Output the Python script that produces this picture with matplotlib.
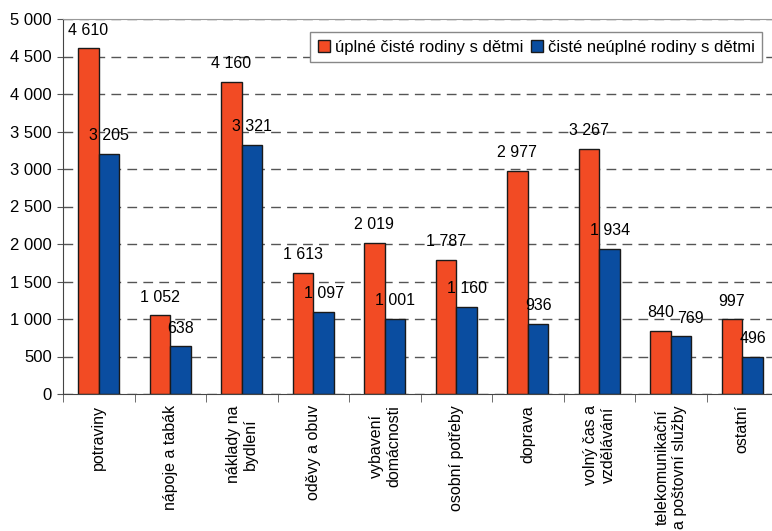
import numpy as np
import matplotlib
matplotlib.use("Agg")
import matplotlib.pyplot as plt
from matplotlib.ticker import FuncFormatter, FixedLocator

categories = ["potraviny", "nápoje a tabák", "náklady na\nbydlení", "oděvy a obuv",
              "vybavení\ndomácnosti", "osobní potřeby", "doprava",
              "volný čas a\nvzdělávání", "telekomunikační\na poštovní služby", "ostatní"]
uplne = [4610, 1052, 4160, 1613, 2019, 1787, 2977, 3267, 840, 997]
neuplne = [3205, 638, 3321, 1097, 1001, 1160, 936, 1934, 769, 496]
series_names = ["úplné čisté rodiny s dětmi", "čisté neúplné rodiny s dětmi"]

RED = "#F24B24"
BLUE = "#0A4DA0"

plt.rcParams["font.family"] = ["Liberation Sans", "DejaVu Sans"]


def fmt(v, pos=None):
    return f"{int(v):,}".replace(",", " ")


fig = plt.figure(figsize=(7.72, 5.31), dpi=100)
ax = fig.add_axes([63 / 772, 1 - 394 / 531, 715 / 772, 375 / 531])

x = np.arange(len(categories))
w = 0.29
b1 = ax.bar(x - w / 2, uplne, w, color=RED, edgecolor="#1a1a1a", linewidth=1, label=series_names[0])
b2 = ax.bar(x + w / 2, neuplne, w, color=BLUE, edgecolor="#1a1a1a", linewidth=1, label=series_names[1])

for k, (bars, vals) in enumerate(((b1, uplne), (b2, neuplne))):
    for i, (r, v) in enumerate(zip(bars, vals)):
        dx = 7 if (k == 1 and i == 8) else 0   # posun popisku u telekomunikací, jako v předloze
        ax.annotate(fmt(v), (r.get_x() + r.get_width() / 2, v), xytext=(dx, 13),
                    textcoords="offset points", ha="center", va="center", fontsize=11.5)

ax.set_xlim(-0.5, len(categories) - 0.5)
ax.set_ylim(0, 5000)
ax.set_yticks(np.arange(0, 5001, 500))
ax.yaxis.set_major_formatter(FuncFormatter(fmt))
ax.set_axisbelow(True)
ax.yaxis.grid(True, color="#555555", linestyle=(0, (7, 4.5)), linewidth=1)

ax.set_xticks(x)
ax.set_xticklabels(categories, rotation=90, ha="center", va="top", multialignment="center", fontsize=11.5)
ax.xaxis.set_minor_locator(FixedLocator(np.arange(-0.5, len(categories), 1)))
ax.tick_params(axis="x", which="major", length=0, pad=8)
ax.tick_params(axis="x", which="minor", length=6, color="#555555")
ax.tick_params(axis="y", length=4, color="#555555", labelsize=12, pad=4)

for s in ("left", "bottom"):
    ax.spines[s].set_color("#444444")
for s in ("top", "right"):
    ax.spines[s].set_color("#999999")

leg = ax.legend(loc="upper right", bbox_to_anchor=(0.978, 0.965), ncol=2, fontsize=12,
                frameon=True, fancybox=False, edgecolor="#888888", framealpha=1,
                handlelength=0.7, handleheight=0.7, handletextpad=0.3, columnspacing=0.5,
                borderpad=0.45, borderaxespad=0)
leg.get_frame().set_linewidth(1)

fig.savefig("out.png", dpi=100, facecolor="white")
